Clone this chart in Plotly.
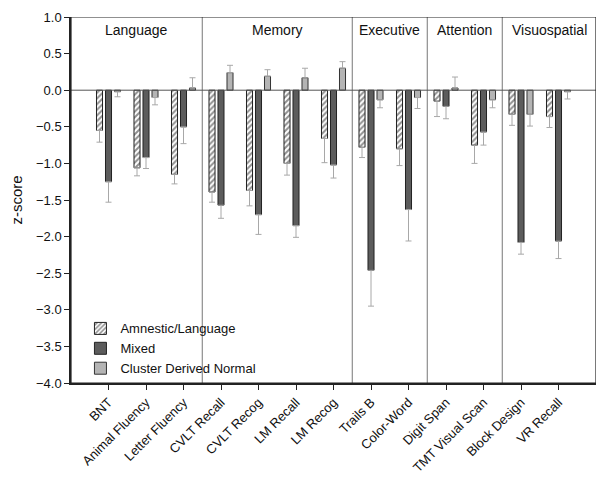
import plotly.graph_objects as go

categories = ["BNT", "Animal Fluency", "Letter Fluency", "CVLT Recall", "CVLT Recog",
              "LM Recall", "LM Recog", "Trails B", "Color-Word", "Digit Span",
              "TMT Visual Scan", "Block Design", "VR Recall"]
domains = ["Language", "Memory", "Executive", "Attention", "Visuospatial"]
domain_bounds = [(-1, 2.5), (2.5, 6.5), (6.5, 8.5), (8.5, 10.5), (10.5, 13)]

amnestic = [-0.55, -1.06, -1.15, -1.39, -1.37, -1.00, -0.66, -0.78, -0.80, -0.15, -0.75, -0.33, -0.36]
amnestic_err = [0.16, 0.11, 0.13, 0.14, 0.21, 0.16, 0.33, 0.14, 0.23, 0.21, 0.25, 0.15, 0.15]
mixed = [-1.25, -0.92, -0.50, -1.57, -1.70, -1.85, -1.02, -2.46, -1.63, -0.22, -0.57, -2.08, -2.06]
mixed_err = [0.28, 0.15, 0.23, 0.18, 0.27, 0.16, 0.18, 0.49, 0.43, 0.17, 0.18, 0.16, 0.24]
normal = [-0.02, -0.10, 0.03, 0.24, 0.19, 0.17, 0.30, -0.13, -0.10, 0.03, -0.13, -0.33, -0.02]
normal_err = [0.07, 0.10, 0.14, 0.10, 0.09, 0.13, 0.09, 0.11, 0.15, 0.15, 0.11, 0.16, 0.10]

xpos = list(range(len(categories)))


def one_sided(vals, errs):
    plus = [e if v >= 0 else 0 for v, e in zip(vals, errs)]
    minus = [e if v < 0 else 0 for v, e in zip(vals, errs)]
    return dict(type="data", symmetric=False, array=plus, arrayminus=minus,
                color="#a8a8a8", thickness=1, width=3)


fig = go.Figure()
fig.add_trace(go.Bar(
    x=xpos, y=amnestic, name="Amnestic/Language",
    marker=dict(color="white", line=dict(color="#222", width=1),
                pattern=dict(shape="/", fgcolor="#222", bgcolor="white", size=4, solidity=0.5)),
    error_y=one_sided(amnestic, amnestic_err)))
fig.add_trace(go.Bar(
    x=xpos, y=mixed, name="Mixed",
    marker=dict(color="#5c5c5c", line=dict(color="#222", width=1)),
    error_y=one_sided(mixed, mixed_err)))
fig.add_trace(go.Bar(
    x=xpos, y=normal, name="Cluster Derived Normal",
    marker=dict(color="#b4b4b4", line=dict(color="#333", width=1)),
    error_y=one_sided(normal, normal_err)))

shapes = []
for lo, hi in domain_bounds[:-1]:
    shapes.append(dict(type="line", xref="x", yref="y", x0=hi, x1=hi, y0=-4, y1=1,
                       line=dict(color="#777", width=1)))
shapes.append(dict(type="line", xref="x", yref="y", x0=-1, x1=13, y0=0, y1=0,
                   line=dict(color="#555", width=1)))
shapes.append(dict(type="rect", xref="x", yref="y", x0=-1, x1=13, y0=-4, y1=1,
                   line=dict(color="#222", width=1.2)))

annotations = []
for name, (lo, hi) in zip(domains, domain_bounds):
    annotations.append(dict(x=(lo + hi) / 2, y=0.82, xref="x", yref="y", text=name,
                            showarrow=False, font=dict(size=14, color="#111")))

fig.update_layout(
    width=604, height=489,
    margin=dict(l=63, r=16, t=9, b=114),
    paper_bgcolor="white", plot_bgcolor="white",
    barmode="group", bargap=0.28, bargroupgap=0.33,
    font=dict(family="Liberation Sans, Arial, sans-serif", color="#111"),
    shapes=shapes, annotations=annotations,
    legend=dict(x=0.018, y=0.19, xanchor="left", yanchor="top",
                bgcolor="rgba(0,0,0,0)", font=dict(size=13), tracegroupgap=0,
                itemwidth=30),
    showlegend=True,
)
fig.update_xaxes(range=[-1, 13], tickmode="array", tickvals=xpos, ticktext=categories,
                 tickangle=-45, ticks="outside", ticklen=5, tickcolor="#222",
                 showline=True, linecolor="#222", linewidth=1.5, showgrid=False,
                 zeroline=False, tickfont=dict(size=13), automargin=False)
fig.update_yaxes(range=[-4, 1], dtick=0.5, tickformat=".1f", ticks="outside", ticklen=5,
                 tickcolor="#222", showline=True, linecolor="#222", linewidth=1.5,
                 showgrid=False, zeroline=False, tickfont=dict(size=13), automargin=False,
                 title=dict(text="z-score", font=dict(size=15), standoff=12))

fig.write_html("out.html")
